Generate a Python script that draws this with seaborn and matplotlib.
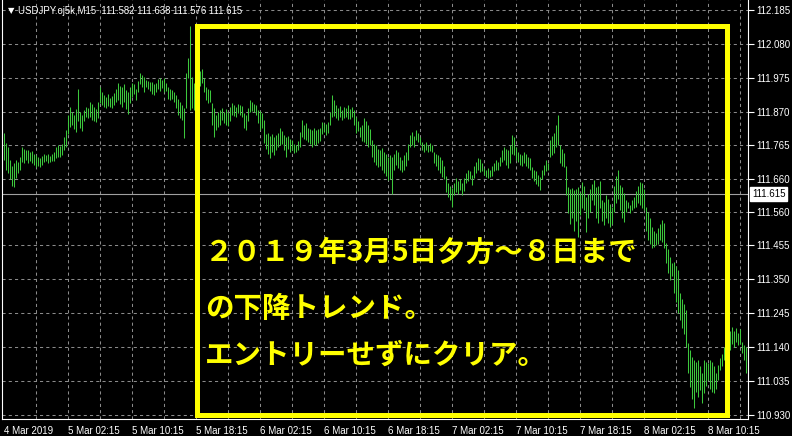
import matplotlib
matplotlib.use("Agg")
import matplotlib.pyplot as plt
from matplotlib.patches import Rectangle
import seaborn as sns

# USDJPY M15 bars, 4 Mar 18:15 .. 8 Mar 2019
highs = [
    111.804, 111.773, 111.760, 111.720, 111.700, 111.710, 111.720, 111.714, 111.730, 111.760, 111.755, 111.750,
    111.752, 111.745, 111.748, 111.740, 111.735, 111.730, 111.725, 111.732, 111.739, 111.736, 111.738, 111.733,
    111.740, 111.745, 111.760, 111.767, 111.762, 111.770, 111.790, 111.813, 111.860, 111.885, 111.870, 111.860,
    111.878, 111.940, 111.870, 111.860, 111.875, 111.885, 111.880, 111.900, 111.895, 111.885, 111.878, 111.900,
    111.946, 111.930, 111.920, 111.915, 111.925, 111.912, 111.918, 111.928, 111.940, 111.959, 111.950, 111.945,
    111.955, 111.937, 111.930, 111.945, 111.960, 111.955, 111.940, 111.965, 111.990, 111.985, 111.978, 111.968,
    111.965, 111.962, 111.962, 111.955, 111.960, 111.972, 111.975, 111.968, 111.975, 111.960, 111.946, 111.940,
    111.937, 111.930, 111.921, 111.910, 111.900, 111.890, 111.880, 111.990, 112.036, 112.135, 111.977, 111.960,
    111.970, 111.985, 111.995, 112.002, 111.975, 111.946, 111.940, 111.937, 111.897, 111.880, 111.860, 111.869,
    111.875, 111.880, 111.870, 111.878, 111.869, 111.884, 111.897, 111.890, 111.884, 111.895, 111.890, 111.886,
    111.866, 111.860, 111.880, 111.906, 111.900, 111.895, 111.890, 111.875, 111.872, 111.865, 111.844, 111.800,
    111.804, 111.795, 111.800, 111.791, 111.797, 111.805, 111.819, 111.810, 111.798, 111.790, 111.795, 111.785,
    111.782, 111.770, 111.766, 111.780, 111.807, 111.844, 111.830, 111.835, 111.819, 111.815, 111.813, 111.818,
    111.812, 111.815, 111.820, 111.838, 111.835, 111.832, 111.838, 111.870, 111.921, 111.905, 111.890, 111.880,
    111.888, 111.875, 111.885, 111.880, 111.890, 111.878, 111.884, 111.875, 111.853, 111.840, 111.822, 111.830,
    111.850, 111.840, 111.828, 111.815, 111.782, 111.770, 111.765, 111.755, 111.751, 111.757, 111.745, 111.740,
    111.729, 111.735, 111.730, 111.740, 111.751, 111.745, 111.730, 111.720, 111.735, 111.745, 111.770, 111.798,
    111.807, 111.795, 111.813, 111.805, 111.790, 111.776, 111.770, 111.775, 111.766, 111.772, 111.768, 111.745,
    111.740, 111.735, 111.728, 111.720, 111.700, 111.670, 111.649, 111.640, 111.633, 111.650, 111.664, 111.655,
    111.660, 111.649, 111.665, 111.680, 111.689, 111.685, 111.675, 111.700, 111.714, 111.726, 111.722, 111.710,
    111.695, 111.690, 111.695, 111.689, 111.700, 111.712, 111.720, 111.715, 111.730, 111.751, 111.760, 111.755,
    111.750, 111.765, 111.798, 111.791, 111.760, 111.745, 111.740, 111.735, 111.745, 111.738, 111.730, 111.726,
    111.698, 111.690, 111.685, 111.675, 111.667, 111.690, 111.705, 111.720, 111.712, 111.782, 111.795, 111.804,
    111.830, 111.860, 111.766, 111.755, 111.742, 111.700, 111.636, 111.630, 111.632, 111.627, 111.630, 111.635,
    111.620, 111.652, 111.640, 111.605, 111.615, 111.630, 111.645, 111.658, 111.636, 111.640, 111.655, 111.596,
    111.590, 111.612, 111.600, 111.585, 111.574, 111.640, 111.670, 111.689, 111.643, 111.635, 111.618, 111.596,
    111.590, 111.581, 111.595, 111.605, 111.625, 111.640, 111.652, 111.648, 111.630, 111.574, 111.560, 111.540,
    111.512, 111.500, 111.494, 111.510, 111.520, 111.534, 111.525, 111.463, 111.445, 111.420, 111.401, 111.404,
    111.390, 111.379, 111.308, 111.290, 111.275, 111.255, 111.153, 111.130, 111.110, 111.100, 111.095, 111.100,
    111.080, 111.060, 111.100, 111.095, 111.091, 111.100, 111.094, 111.080, 111.060, 111.085, 111.106, 111.120,
    111.140, 111.150, 111.170, 111.190, 111.202, 111.190, 111.198, 111.184, 111.195, 111.156, 111.145, 111.140,
]
lows = [
    111.720, 111.690, 111.680, 111.660, 111.640, 111.636, 111.665, 111.680, 111.690, 111.715, 111.710, 111.720,
    111.712, 111.718, 111.710, 111.705, 111.698, 111.700, 111.698, 111.705, 111.714, 111.716, 111.712, 111.714,
    111.716, 111.718, 111.726, 111.730, 111.728, 111.735, 111.750, 111.760, 111.800, 111.822, 111.830, 111.815,
    111.807, 111.840, 111.820, 111.810, 111.840, 111.853, 111.850, 111.853, 111.845, 111.840, 111.838, 111.850,
    111.897, 111.890, 111.885, 111.882, 111.888, 111.884, 111.881, 111.890, 111.900, 111.906, 111.895, 111.885,
    111.900, 111.878, 111.863, 111.897, 111.915, 111.925, 111.905, 111.930, 111.955, 111.945, 111.930, 111.946,
    111.940, 111.935, 111.925, 111.921, 111.930, 111.940, 111.935, 111.943, 111.931, 111.935, 111.910, 111.906,
    111.908, 111.900, 111.880, 111.860, 111.850, 111.844, 111.788, 111.880, 111.974, 111.875, 111.880, 111.875,
    111.900, 111.915, 111.950, 111.959, 111.930, 111.905, 111.897, 111.900, 111.830, 111.791, 111.813, 111.822,
    111.830, 111.844, 111.835, 111.830, 111.825, 111.840, 111.860, 111.855, 111.853, 111.866, 111.858, 111.853,
    111.820, 111.813, 111.840, 111.869, 111.872, 111.870, 111.860, 111.835, 111.813, 111.820, 111.773, 111.755,
    111.740, 111.726, 111.745, 111.735, 111.750, 111.760, 111.766, 111.770, 111.750, 111.729, 111.755, 111.745,
    111.751, 111.742, 111.745, 111.750, 111.760, 111.791, 111.785, 111.782, 111.776, 111.770, 111.760, 111.768,
    111.765, 111.772, 111.778, 111.800, 111.807, 111.798, 111.805, 111.830, 111.853, 111.855, 111.850, 111.844,
    111.853, 111.845, 111.850, 111.853, 111.848, 111.846, 111.852, 111.830, 111.804, 111.810, 111.791, 111.780,
    111.775, 111.770, 111.760, 111.765, 111.729, 111.715, 111.705, 111.698, 111.700, 111.690, 111.680, 111.670,
    111.658, 111.662, 111.615, 111.690, 111.704, 111.695, 111.688, 111.683, 111.690, 111.700, 111.720, 111.760,
    111.765, 111.760, 111.782, 111.775, 111.765, 111.751, 111.745, 111.750, 111.746, 111.748, 111.745, 111.711,
    111.700, 111.690, 111.680, 111.667, 111.660, 111.620, 111.605, 111.595, 111.574, 111.612, 111.620, 111.615,
    111.627, 111.612, 111.625, 111.650, 111.655, 111.660, 111.643, 111.665, 111.680, 111.690, 111.683, 111.685,
    111.673, 111.668, 111.664, 111.668, 111.670, 111.685, 111.690, 111.689, 111.700, 111.715, 111.720, 111.705,
    111.695, 111.710, 111.740, 111.736, 111.720, 111.714, 111.705, 111.700, 111.710, 111.700, 111.695, 111.689,
    111.664, 111.655, 111.645, 111.640, 111.627, 111.660, 111.674, 111.685, 111.689, 111.729, 111.735, 111.742,
    111.760, 111.765, 111.710, 111.700, 111.698, 111.610, 111.556, 111.520, 111.540, 111.500, 111.530, 111.481,
    111.550, 111.570, 111.565, 111.497, 111.540, 111.560, 111.596, 111.580, 111.540, 111.525, 111.570, 111.530,
    111.519, 111.540, 111.525, 111.512, 111.520, 111.560, 111.587, 111.600, 111.565, 111.540, 111.528, 111.560,
    111.571, 111.556, 111.565, 111.570, 111.575, 111.587, 111.580, 111.570, 111.565, 111.500, 111.472, 111.460,
    111.447, 111.450, 111.455, 111.460, 111.472, 111.465, 111.447, 111.400, 111.370, 111.348, 111.360, 111.308,
    111.280, 111.246, 111.224, 111.200, 111.180, 111.140, 111.060, 111.016, 110.980, 110.951, 111.000, 110.985,
    111.007, 110.966, 110.998, 111.020, 111.038, 111.010, 111.000, 110.998, 111.010, 111.038, 111.069, 111.080,
    111.100, 111.105, 111.120, 111.130, 111.150, 111.140, 111.156, 111.145, 111.150, 111.122, 111.100, 111.060,
]
time_labels = ["4 Mar 2019", "5 Mar 02:15", "5 Mar 10:15", "5 Mar 18:15", "6 Mar 02:15", "6 Mar 10:15",
               "6 Mar 18:15", "7 Mar 02:15", "7 Mar 10:15", "7 Mar 18:15", "8 Mar 02:15", "8 Mar 10:15"]
price_labels = ["112.185", "112.080", "111.975", "111.870", "111.765", "111.660", "111.560",
                "111.455", "111.350", "111.245", "111.140", "111.035", "110.930"]
bid = 111.615
header = "USDJPY.oj5k,M15  111.582 111.638 111.576 111.615"
note_lines = ["２０１９年3月5日夕方～８日まで", "の下降トレンド。", "エントリーせずにクリア。"]

GREEN = "#3cc83c"
GRIDC = "#8a8a8a"
YELLOW = "#ffff00"

sns.set_theme(style="dark", rc={"axes.facecolor": "black", "figure.facecolor": "black"})
plt.rcParams["font.family"] = ["Liberation Sans", "DejaVu Sans"]

fig = plt.figure(figsize=(7.92, 4.36), dpi=100)
ax = fig.add_axes([2 / 792, 17 / 436, 746 / 792, 419 / 436])
ax.set_facecolor("black")

n = len(highs)
idx = list(range(n))
ax.vlines(idx, lows, highs, color=GREEN, linewidth=0.75, zorder=3)

ax.set_xlim(-0.75, n + 0.25)
ax.set_ylim(110.917, 112.216)

# grid: price levels + every 4 hours (16 bars)
ticks_p = [float(s) for s in price_labels]
for p in ticks_p:
    ax.axhline(p, color=GRIDC, lw=0.75, ls=(0, (3, 3)), zorder=1)
for i in range(16, n, 16):
    ax.axvline(i, color=GRIDC, lw=0.75, ls=(0, (3, 3)), zorder=1)
ax.axhline(bid, color="#a0a0a0", lw=0.8, zorder=2)

ax.set_xticks(range(0, n, 32)[:len(time_labels)], time_labels)
for lbl in ax.get_xticklabels():
    lbl.set_ha("left")
ax.tick_params(axis="x", colors="white", length=4, width=0.8, labelsize=7, pad=1)

ax.yaxis.tick_right()
ax.set_yticks(ticks_p, price_labels)
ax.tick_params(axis="y", colors="white", length=4, width=0.8, labelsize=7, pad=2)
ax.grid(False)

for side in ["left", "right", "bottom"]:
    ax.spines[side].set_color("white")
    ax.spines[side].set_linewidth(0.8)
ax.spines["top"].set_visible(False)

ax.text(1.0054, bid, "111.615", transform=ax.get_yaxis_transform(), ha="left", va="center",
        fontsize=7, color="black",
        bbox=dict(boxstyle="square,pad=0.2", fc="white", ec="white"))

# header
fig.text(8 / 792, 1 - 11 / 436, "▼", fontsize=6, color="white", family="DejaVu Sans", va="center")
fig.text(18 / 792, 1 - 11 / 436, header, fontsize=6.9, color="white", va="center")

# yellow frame + comment
ax.add_patch(Rectangle((0.2614, 0.0084), 0.9725 - 0.2614, 0.9391 - 0.0084, transform=ax.transAxes,
                       fill=False, ec=YELLOW, lw=3.6, joinstyle="miter", zorder=5, clip_on=False))
for line, yc in zip(note_lines, [253, 309, 356]):
    fig.text(205 / 792, 1 - yc / 436, line, fontsize=20.5, color=YELLOW,
             fontweight="bold", family=["Noto Sans CJK JP", "DejaVu Sans"], va="center")

fig.savefig("out.png", dpi=100, facecolor="black")
